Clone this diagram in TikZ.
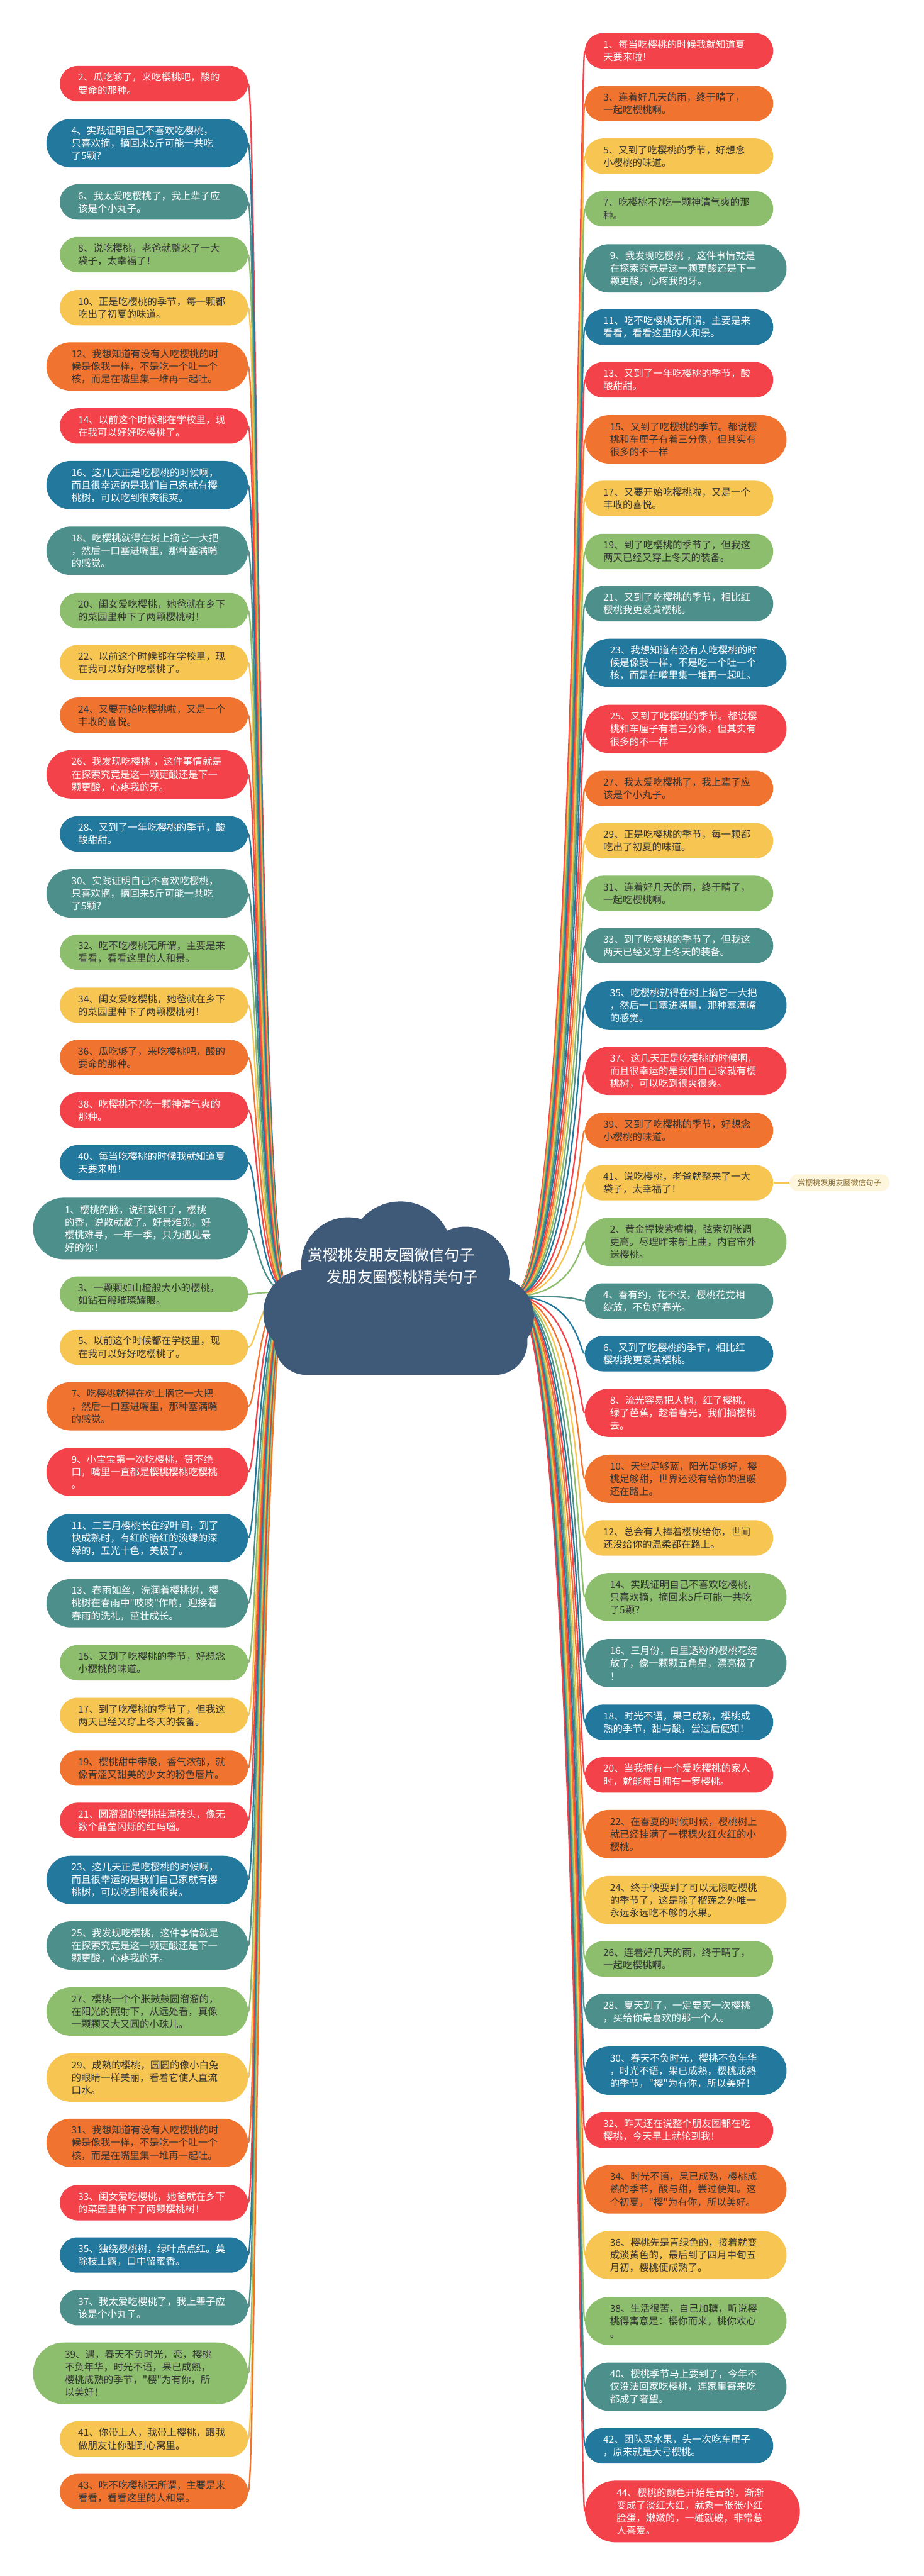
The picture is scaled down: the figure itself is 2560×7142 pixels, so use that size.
\documentclass[tikz,border=0pt]{standalone}
\usepackage{fontspec}
\newfontfamily\cjk{Noto Sans CJK SC}
\definecolor{cR}{HTML}{F4424A}
\definecolor{cB}{HTML}{23789E}
\definecolor{cT}{HTML}{4D8F8B}
\definecolor{cG}{HTML}{8DBE6D}
\definecolor{cY}{HTML}{F7C652}
\definecolor{cO}{HTML}{F0742F}
\definecolor{cD}{HTML}{333333}
\definecolor{cRoot}{HTML}{3E5A78}
\definecolor{cLab}{HTML}{FDF5DC}
\definecolor{cLabT}{HTML}{8A6A2A}
\tikzset{
  bubble/.style={inner sep=0pt, text width=210pt, align=left,
    font=\cjk\fontsize{13.5pt}{17.5pt}\selectfont},
  two/.style={minimum width=261pt, minimum height=49pt, rounded corners=24.5pt},
  three/.style={minimum width=279.5pt, minimum height=67pt, rounded corners=33.5pt},
  four/.style={minimum width=298pt, minimum height=85.5pt, rounded corners=42.7pt},
  conn/.style={line width=2pt},
  rootfill/.style={fill=cRoot},
  labnode/.style={fill=cLab, text=cLabT, inner sep=0pt, minimum width=139pt,
    minimum height=23pt, rounded corners=11.5pt, font=\cjk\fontsize{10.5pt}{12pt}\selectfont}
}
\newcommand\lft[6]{%
  \node[bubble,#3,fill=#4,text=#5,anchor=east] (#1) at (688,#2) {#6};
  \draw[conn,draw=#4] (rootL) .. controls (716,3580) and (712,#2) .. (#1.east);}
\newcommand\rgt[6]{%
  \node[bubble,#3,fill=#4,text=#5,anchor=west] (#1) at (1621,#2) {#6};
  \draw[conn,draw=#4] (rootR) .. controls (1602,3590) and (1606,#2) .. (#1.west);}
\begin{document}
\begin{tikzpicture}[x=0.5pt,y=-0.5pt]
\fill[white] (0,0) rectangle (2560,7142);
\useasboundingbox (0,0) rectangle (2560,7142);
\coordinate (rootL) at (800,3585);
\coordinate (rootR) at (1420,3595);
% left side
\lft{L2}{232}{two}{cR}{white}{2、瓜吃够了，来吃樱桃吧，酸的\\要命的那种。}
\lft{L4}{397}{three}{cB}{white}{4、实践证明自己不喜欢吃樱桃，\\只喜欢摘，摘回来5斤可能一共吃\\了5颗？}
\lft{L6}{560}{two}{cT}{white}{6、我太爱吃樱桃了，我上辈子应\\该是个小丸子。}
\lft{L8}{706}{two}{cG}{cD}{8、说吃樱桃，老爸就整来了一大\\袋子，太幸福了！}
\lft{L10}{853}{two}{cY}{cD}{10、正是吃樱桃的季节，每一颗都\\吃出了初夏的味道。}
\lft{L12}{1016}{three}{cO}{cD}{12、我想知道有没有人吃樱桃的时\\候是像我一样，不是吃一个吐一个\\核，而是在嘴里集一堆再一起吐。}
\lft{L14}{1181}{two}{cR}{white}{14、以前这个时候都在学校里，现\\在我可以好好吃樱桃了。}
\lft{L16}{1345}{three}{cB}{white}{16、这几天正是吃樱桃的时候啊，\\而且很幸运的是我们自己家就有樱\\桃树，可以吃到很爽很爽。}
\lft{L18}{1527}{three}{cT}{white}{18、吃樱桃就得在树上摘它一大把\\，然后一口塞进嘴里，那种塞满嘴\\的感觉。}
\lft{L20}{1693}{two}{cG}{cD}{20、闺女爱吃樱桃，她爸就在乡下\\的菜园里种下了两颗樱桃树！}
\lft{L22}{1837}{two}{cY}{cD}{22、以前这个时候都在学校里，现\\在我可以好好吃樱桃了。}
\lft{L24}{1983}{two}{cO}{cD}{24、又要开始吃樱桃啦，又是一个\\丰收的喜悦。}
\lft{L26}{2147}{three}{cR}{white}{26、我发现吃樱桃 ，这件事情就是\\在探索究竟是这一颗更酸还是下一\\颗更酸，心疼我的牙。}
\lft{L28}{2312}{two}{cB}{white}{28、又到了一年吃樱桃的季节，酸\\酸甜甜。}
\lft{L30}{2477}{three}{cT}{white}{30、实践证明自己不喜欢吃樱桃，\\只喜欢摘，摘回来5斤可能一共吃\\了5颗？}
\lft{L32}{2640}{two}{cG}{cD}{32、吃不吃樱桃无所谓，主要是来\\看看，看看这里的人和景。}
\lft{L34}{2787}{two}{cY}{cD}{34、闺女爱吃樱桃，她爸就在乡下\\的菜园里种下了两颗樱桃树！}
\lft{L36}{2932}{two}{cO}{cD}{36、瓜吃够了，来吃樱桃吧，酸的\\要命的那种。}
\lft{L38}{3078}{two}{cR}{white}{38、吃樱桃不?吃一颗神清气爽的\\那种。}
\lft{L40}{3224}{two}{cB}{white}{40、每当吃樱桃的时候我就知道夏\\天要来啦！}
\lft{L1}{3406}{four}{cT}{white}{1、樱桃的脸，说红就红了，樱桃\\的香，说散就散了。好景难觅，好\\樱桃难寻，一年一季，只为遇见最\\好的你！}
\lft{L3}{3588}{two}{cG}{cD}{3、一颗颗如山楂般大小的樱桃，\\如钻石般璀璨耀眼。}
\lft{L5}{3735}{two}{cY}{cD}{5、以前这个时候都在学校里，现\\在我可以好好吃樱桃了。}
\lft{L7}{3899}{three}{cO}{cD}{7、吃樱桃就得在树上摘它一大把\\，然后一口塞进嘴里，那种塞满嘴\\的感觉。}
\lft{L9}{4081}{three}{cR}{white}{9、小宝宝第一次吃樱桃，赞不绝\\口，嘴里一直都是樱桃樱桃吃樱桃\\。}
\lft{L11}{4264}{three}{cB}{white}{11、二三月樱桃长在绿叶间，到了\\快成熟时，有红的暗红的淡绿的深\\绿的，五光十色，美极了。}
\lft{L13}{4445}{three}{cT}{white}{13、春雨如丝，洗润着樱桃树，樱\\桃树在春雨中"吱吱"作响，迎接着\\春雨的洗礼，茁壮成长。}
\lft{L15}{4610}{two}{cG}{cD}{15、又到了吃樱桃的季节，好想念\\小樱桃的味道。}
\lft{L17}{4756}{two}{cY}{cD}{17、到了吃樱桃的季节了，但我这\\两天已经又穿上冬天的装备。}
\lft{L19}{4902}{two}{cO}{cD}{19、樱桃甜中带酸，香气浓郁，就\\像青涩又甜美的少女的粉色唇片。}
\lft{L21}{5047}{two}{cR}{white}{21、圆溜溜的樱桃挂满枝头，像无\\数个晶莹闪烁的红玛瑙。}
\lft{L23}{5212}{three}{cB}{white}{23、这几天正是吃樱桃的时候啊，\\而且很幸运的是我们自己家就有樱\\桃树，可以吃到很爽很爽。}
\lft{L25}{5394}{three}{cT}{white}{25、我发现吃樱桃，这件事情就是\\在探索究竟是这一颗更酸还是下一\\颗更酸，心疼我的牙。}
\lft{L27}{5577}{three}{cG}{cD}{27、樱桃一个个胀鼓鼓圆溜溜的，\\在阳光的照射下，从远处看，真像\\一颗颗又大又圆的小珠儿。}
\lft{L29}{5760}{three}{cY}{cD}{29、成熟的樱桃，圆圆的像小白兔\\的眼睛一样美丽，看着它使人直流\\口水。}
\lft{L31}{5941}{three}{cO}{cD}{31、我想知道有没有人吃樱桃的时\\候是像我一样，不是吃一个吐一个\\核，而是在嘴里集一堆再一起吐。}
\lft{L33}{6107}{two}{cR}{white}{33、闺女爱吃樱桃，她爸就在乡下\\的菜园里种下了两颗樱桃树！}
\lft{L35}{6252}{two}{cB}{white}{35、独绕樱桃树，绿叶点点红。莫\\除枝上露，口中留蜜香。}
\lft{L37}{6398}{two}{cT}{white}{37、我太爱吃樱桃了，我上辈子应\\该是个小丸子。}
\lft{L39}{6580}{four}{cG}{cD}{39、遇，春天不负时光，恋，樱桃\\不负年华，时光不语，果已成熟，\\樱桃成熟的季节，"樱"为有你，所\\以美好！}
\lft{L41}{6762}{two}{cY}{cD}{41、你带上人，我带上樱桃，跟我\\做朋友让你甜到心窝里。}
\lft{L43}{6908}{two}{cO}{cD}{43、吃不吃樱桃无所谓，主要是来\\看看，看看这里的人和景。}
% right side
\rgt{R1}{141}{two}{cR}{white}{1、每当吃樱桃的时候我就知道夏\\天要来啦！}
\rgt{R3}{287}{two}{cO}{cD}{3、连着好几天的雨，终于晴了，\\一起吃樱桃啊。}
\rgt{R5}{433}{two}{cY}{cD}{5、又到了吃樱桃的季节，好想念\\小樱桃的味道。}
\rgt{R7}{579}{two}{cG}{cD}{7、吃樱桃不?吃一颗神清气爽的那\\种。}
\rgt{R9}{744}{three}{cT}{white}{9、我发现吃樱桃 ，这件事情就是\\在探索究竟是这一颗更酸还是下一\\颗更酸，心疼我的牙。}
\rgt{R11}{907}{two}{cB}{white}{11、吃不吃樱桃无所谓，主要是来\\看看，看看这里的人和景。}
\rgt{R13}{1053}{two}{cR}{white}{13、又到了一年吃樱桃的季节，酸\\酸甜甜。}
\rgt{R15}{1218}{three}{cO}{cD}{15、又到了吃樱桃的季节。都说樱\\桃和车厘子有着三分像，但其实有\\很多的不一样}
\rgt{R17}{1382}{two}{cY}{cD}{17、又要开始吃樱桃啦，又是一个\\丰收的喜悦。}
\rgt{R19}{1529}{two}{cG}{cD}{19、到了吃樱桃的季节了，但我这\\两天已经又穿上冬天的装备。}
\rgt{R21}{1674}{two}{cT}{white}{21、又到了吃樱桃的季节，相比红\\樱桃我更爱黄樱桃。}
\rgt{R23}{1838}{three}{cB}{white}{23、我想知道有没有人吃樱桃的时\\候是像我一样，不是吃一个吐一个\\核，而是在嘴里集一堆再一起吐。}
\rgt{R25}{2021}{three}{cR}{white}{25、又到了吃樱桃的季节。都说樱\\桃和车厘子有着三分像，但其实有\\很多的不一样}
\rgt{R27}{2186}{two}{cO}{cD}{27、我太爱吃樱桃了，我上辈子应\\该是个小丸子。}
\rgt{R29}{2331}{two}{cY}{cD}{29、正是吃樱桃的季节，每一颗都\\吃出了初夏的味道。}
\rgt{R31}{2477}{two}{cG}{cD}{31、连着好几天的雨，终于晴了，\\一起吃樱桃啊。}
\rgt{R33}{2622}{two}{cT}{white}{33、到了吃樱桃的季节了，但我这\\两天已经又穿上冬天的装备。}
\rgt{R35}{2787}{three}{cB}{white}{35、吃樱桃就得在树上摘它一大把\\，然后一口塞进嘴里，那种塞满嘴\\的感觉。}
\rgt{R37}{2969}{three}{cR}{white}{37、这几天正是吃樱桃的时候啊，\\而且很幸运的是我们自己家就有樱\\桃树，可以吃到很爽很爽。}
\rgt{R39}{3134}{two}{cO}{cD}{39、又到了吃樱桃的季节，好想念\\小樱桃的味道。}
\rgt{R41}{3279}{two}{cY}{cD}{41、说吃樱桃，老爸就整来了一大\\袋子，太幸福了！}
\rgt{R2}{3443}{three}{cG}{cD}{2、黄金捍拨紫檀槽，弦索初张调\\更高。尽理昨来新上曲，内官帘外\\送樱桃。}
\rgt{R4}{3607}{two}{cT}{white}{4、春有约，花不误，樱桃花竞相\\绽放，不负好春光。}
\rgt{R6}{3753}{two}{cB}{white}{6、又到了吃樱桃的季节，相比红\\樱桃我更爱黄樱桃。}
\rgt{R8}{3917}{three}{cR}{white}{8、流光容易把人抛，红了樱桃，\\绿了芭蕉，趁着春光，我们摘樱桃\\去。}
\rgt{R10}{4100}{three}{cO}{cD}{10、天空足够蓝，阳光足够好，樱\\桃足够甜，世界还没有给你的温暖\\还在路上。}
\rgt{R12}{4264}{two}{cY}{cD}{12、总会有人捧着樱桃给你，世间\\还没给你的温柔都在路上。}
\rgt{R14}{4428}{three}{cG}{cD}{14、实践证明自己不喜欢吃樱桃，\\只喜欢摘，摘回来5斤可能一共吃\\了5颗？}
\rgt{R16}{4611}{three}{cT}{white}{16、三月份，白里透粉的樱桃花绽\\放了，像一颗颗五角星，漂亮极了\\！}
\rgt{R18}{4775}{two}{cB}{white}{18、时光不语，果已成熟，樱桃成\\熟的季节，甜与酸，尝过后便知！}
\rgt{R20}{4921}{two}{cR}{white}{20、当我拥有一个爱吃樱桃的家人\\时，就能每日拥有一箩樱桃。}
\rgt{R22}{5085}{three}{cO}{cD}{22、在春夏的时候时候，樱桃树上\\就已经挂满了一棵棵火红火红的小\\樱桃。}
\rgt{R24}{5268}{three}{cY}{cD}{24、终于快要到了可以无限吃樱桃\\的季节了，这是除了榴莲之外唯一\\永远永远吃不够的水果。}
\rgt{R26}{5431}{two}{cG}{cD}{26、连着好几天的雨，终于晴了，\\一起吃樱桃啊。}
\rgt{R28}{5577}{two}{cT}{white}{28、夏天到了，一定要买一次樱桃\\，买给你最喜欢的那一个人。}
\rgt{R30}{5741}{three}{cB}{white}{30、春天不负时光，樱桃不负年华\\，时光不语，果已成熟，樱桃成熟\\的季节，"樱"为有你，所以美好！}
\rgt{R32}{5906}{two}{cR}{white}{32、昨天还在说整个朋友圈都在吃\\樱桃，今天早上就轮到我！}
\rgt{R34}{6070}{three}{cO}{cD}{34、时光不语，果已成熟，樱桃成\\熟的季节，酸与甜，尝过便知。这\\个初夏，"樱"为有你，所以美好。}
\rgt{R36}{6252}{three}{cY}{cD}{36、樱桃先是青绿色的，接着就变\\成淡黄色的，最后到了四月中旬五\\月初，樱桃便成熟了。}
\rgt{R38}{6435}{three}{cG}{cD}{38、生活很苦，自己加糖，听说樱\\桃得寓意是：樱你而来，桃你欢心\\。}
\rgt{R40}{6617}{three}{cT}{white}{40、樱桃季节马上要到了，今年不\\仅没法回家吃樱桃，连家里寄来吃\\都成了奢望。}
\rgt{R42}{6781}{two}{cB}{white}{42、团队买水果，头一次吃车厘子\\，原来就是大号樱桃。}
\rgt{R44}{6963}{four}{cR}{white}{44、樱桃的颜色开始是青的，渐渐\\变成了淡红大红，就象一张张小红\\脸蛋，嫩嫩的，一碰就破，非常惹\\人喜爱。}
% side label
\node[labnode] (lab) at (2327,3279) {赏樱桃发朋友圈微信句子};
\draw[conn,draw=cY] (R41.east) -- (lab.west);
% root cloud
\fill[rootfill] (850,3640) circle[radius=60pt];
\fill[rootfill] (965,3505) circle[radius=65pt];
\fill[rootfill] (1110,3475) circle[radius=72pt];
\fill[rootfill] (1290,3525) circle[radius=62pt];
\fill[rootfill] (1370,3650) circle[radius=55pt];
\fill[rootfill,rounded corners=45pt] (760,3560) rectangle (1462,3812);
\node[text=white, align=center, font=\cjk\fontsize{21pt}{31pt}\selectfont] (root) at (1085,3510) {赏樱桃发朋友圈微信句子\\\hspace*{1.5em}发朋友圈樱桃精美句子};
\end{tikzpicture}
\end{document}
